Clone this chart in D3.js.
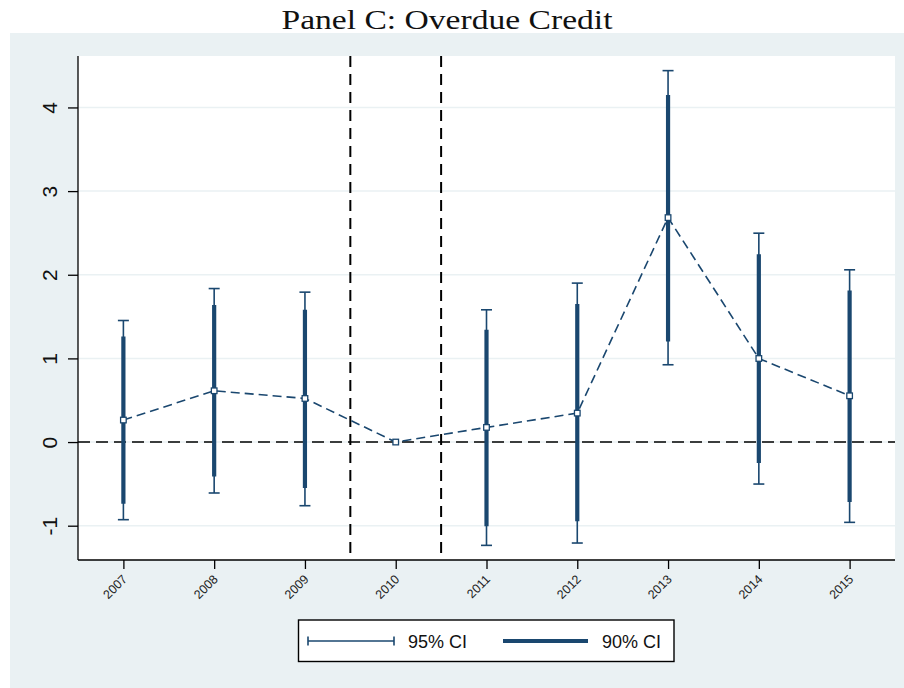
<!DOCTYPE html>
<html>
<head>
<meta charset="utf-8">
<script src="https://cdn.jsdelivr.net/npm/d3@7/dist/d3.min.js"></script>
<style>
  html, body { margin: 0; padding: 0; background: #ffffff; }
  svg { display: block; }
</style>
</head>
<body>
<svg id="chart" width="904" height="688"></svg>
<script>
// ---- data ----
const years   = [2007, 2008, 2009, 2010, 2011, 2012, 2013, 2014, 2015];
const coef    = [0.263, 0.613, 0.521, 0.0, 0.175, 0.346, 2.683, 0.999, 0.553];
const ci95Low = [-0.928, -0.609, -0.761, null, -1.235, -1.207, 0.924, -0.502, -0.960];
const ci95High= [1.453, 1.835, 1.792, null, 1.581, 1.900, 4.440, 2.497, 2.059];
const ci90Low = [-0.737, -0.411, -0.550, null, -1.008, -0.948, 1.202, -0.251, -0.717];
const ci90High= [1.262, 1.637, 1.581, null, 1.342, 1.649, 4.149, 2.246, 1.811];
const yTicks  = [-1, 0, 1, 2, 3, 4];
const eventLines = [2009.5, 2010.5];
const legendLabels = ["95% CI", "90% CI"];
const titleText = "Panel C: Overdue Credit";

const rows = years.map((y, i) => ({
  year: y, b: coef[i], lo95: ci95Low[i], hi95: ci95High[i], lo90: ci90Low[i], hi90: ci90High[i]
}));

const navy = "#1a476f";
const svg = d3.select("#chart");

// outer background
svg.append("rect").attr("x", 10).attr("y", 33).attr("width", 894).attr("height", 655)
  .attr("fill", "#eaf1f3");

// title
svg.append("text").attr("x", 447).attr("y", 29).attr("text-anchor", "middle")
  .attr("font-family", "'Liberation Serif', 'DejaVu Serif', serif")
  .attr("font-size", 28).attr("fill", "#111")
  .attr("textLength", 331).attr("lengthAdjust", "spacingAndGlyphs")
  .text(titleText);

const plot = { left: 78, right: 895, top: 56, bottom: 560 };

const x = d3.scaleLinear().domain([2006.5, 2015.5]).range([plot.left, plot.right]);
const y = d3.scaleLinear().domain([-1.41, 4.615]).range([plot.bottom, plot.top]);

// plot region
svg.append("rect").attr("x", plot.left).attr("y", plot.top)
  .attr("width", plot.right - plot.left).attr("height", plot.bottom - plot.top)
  .attr("fill", "#ffffff");

// gridlines
svg.append("g").selectAll("line").data(yTicks).join("line")
  .attr("x1", plot.left).attr("x2", plot.right)
  .attr("y1", d => y(d)).attr("y2", d => y(d))
  .attr("stroke", "#eaf1f3").attr("stroke-width", 1.5);

// zero reference line
svg.append("line").attr("x1", plot.left).attr("x2", plot.right)
  .attr("y1", y(0)).attr("y2", y(0))
  .attr("stroke", "#000").attr("stroke-width", 1.6).attr("stroke-dasharray", "12,6");

// vertical event lines
svg.append("g").selectAll("line").data(eventLines).join("line")
  .attr("x1", d => x(d)).attr("x2", d => x(d))
  .attr("y1", plot.top).attr("y2", plot.bottom)
  .attr("stroke", "#000").attr("stroke-width", 2).attr("stroke-dasharray", "11,7");

// connecting dashed line
const line = d3.line().x(d => x(d.year)).y(d => y(d.b));
svg.append("path").datum(rows).attr("d", line)
  .attr("fill", "none").attr("stroke", navy).attr("stroke-width", 1.6)
  .attr("stroke-dasharray", "9,5");

const ciRows = rows.filter(d => d.lo95 !== null);

// 95% CI thin lines with caps
const g95 = svg.append("g").attr("stroke", navy).attr("stroke-width", 1.6);
g95.selectAll("line.v").data(ciRows).join("line").attr("class", "v")
  .attr("x1", d => x(d.year)).attr("x2", d => x(d.year))
  .attr("y1", d => y(d.lo95)).attr("y2", d => y(d.hi95));
g95.selectAll("line.ct").data(ciRows).join("line").attr("class", "ct")
  .attr("x1", d => x(d.year) - 5.5).attr("x2", d => x(d.year) + 5.5)
  .attr("y1", d => y(d.hi95)).attr("y2", d => y(d.hi95));
g95.selectAll("line.cb").data(ciRows).join("line").attr("class", "cb")
  .attr("x1", d => x(d.year) - 5.5).attr("x2", d => x(d.year) + 5.5)
  .attr("y1", d => y(d.lo95)).attr("y2", d => y(d.lo95));

// 90% CI thick lines
svg.append("g").selectAll("line").data(ciRows).join("line")
  .attr("x1", d => x(d.year)).attr("x2", d => x(d.year))
  .attr("y1", d => y(d.lo90)).attr("y2", d => y(d.hi90))
  .attr("stroke", navy).attr("stroke-width", 4.2);

// markers
svg.append("g").selectAll("rect").data(rows).join("rect")
  .attr("x", d => x(d.year) - 2.8).attr("y", d => y(d.b) - 2.8)
  .attr("width", 5.6).attr("height", 5.6)
  .attr("fill", "#fff").attr("stroke", navy).attr("stroke-width", 1.3);

// axes
const hyphenFmt = d => String(d);
const yAxis = d3.axisLeft(y).tickValues(yTicks).tickSize(10).tickPadding(11).tickFormat(hyphenFmt);
const gy = svg.append("g").attr("transform", `translate(${plot.left},0)`).call(yAxis);
gy.select(".domain").attr("d", `M0,${plot.top}V${plot.bottom}`).attr("stroke", "#000").attr("stroke-width", 1.3);
gy.selectAll(".tick line").attr("stroke", "#000").attr("stroke-width", 1.3);
gy.selectAll(".tick text")
  .attr("font-family", "'Liberation Sans', Arial, sans-serif").attr("font-size", 21).attr("fill", "#111")
  .attr("x", null).attr("dy", null)
  .attr("text-anchor", "middle")
  .attr("transform", "translate(-21,0) rotate(-90)");

const xAxis = d3.axisBottom(x).tickValues(years).tickSize(9).tickPadding(3).tickFormat(d3.format("d"));
const gx = svg.append("g").attr("transform", `translate(0,${plot.bottom})`).call(xAxis);
gx.select(".domain").attr("d", `M${plot.left},0H${plot.right}`).attr("stroke", "#000").attr("stroke-width", 1.3);
gx.selectAll(".tick line").attr("stroke", "#000").attr("stroke-width", 1.3);
gx.selectAll(".tick text")
  .attr("font-family", "'Liberation Sans', Arial, sans-serif").attr("font-size", 12.5).attr("fill", "#222")
  .attr("y", null).attr("dy", null).attr("text-anchor", "end")
  .attr("transform", "translate(4,20) rotate(-45)");

// legend
const leg = svg.append("g");
leg.append("rect").attr("x", 298.5).attr("y", 620).attr("width", 375.5).attr("height", 41.5)
  .attr("fill", "#fff").attr("stroke", "#000").attr("stroke-width", 1.4);
const ly = 641;
leg.append("line").attr("x1", 308).attr("x2", 394).attr("y1", ly).attr("y2", ly)
  .attr("stroke", navy).attr("stroke-width", 1.6);
leg.append("line").attr("x1", 308).attr("x2", 308).attr("y1", ly - 4.5).attr("y2", ly + 4.5)
  .attr("stroke", navy).attr("stroke-width", 1.6);
leg.append("line").attr("x1", 394).attr("x2", 394).attr("y1", ly - 4.5).attr("y2", ly + 4.5)
  .attr("stroke", navy).attr("stroke-width", 1.6);
leg.append("line").attr("x1", 503).attr("x2", 588).attr("y1", ly).attr("y2", ly)
  .attr("stroke", navy).attr("stroke-width", 4.2);
leg.selectAll("text").data(legendLabels).join("text")
  .attr("x", (d, i) => i === 0 ? 408 : 602).attr("y", ly + 6.5)
  .attr("font-family", "'Liberation Sans', Arial, sans-serif").attr("font-size", 18).attr("fill", "#111")
  .text(d => d);
</script>
</body>
</html>
